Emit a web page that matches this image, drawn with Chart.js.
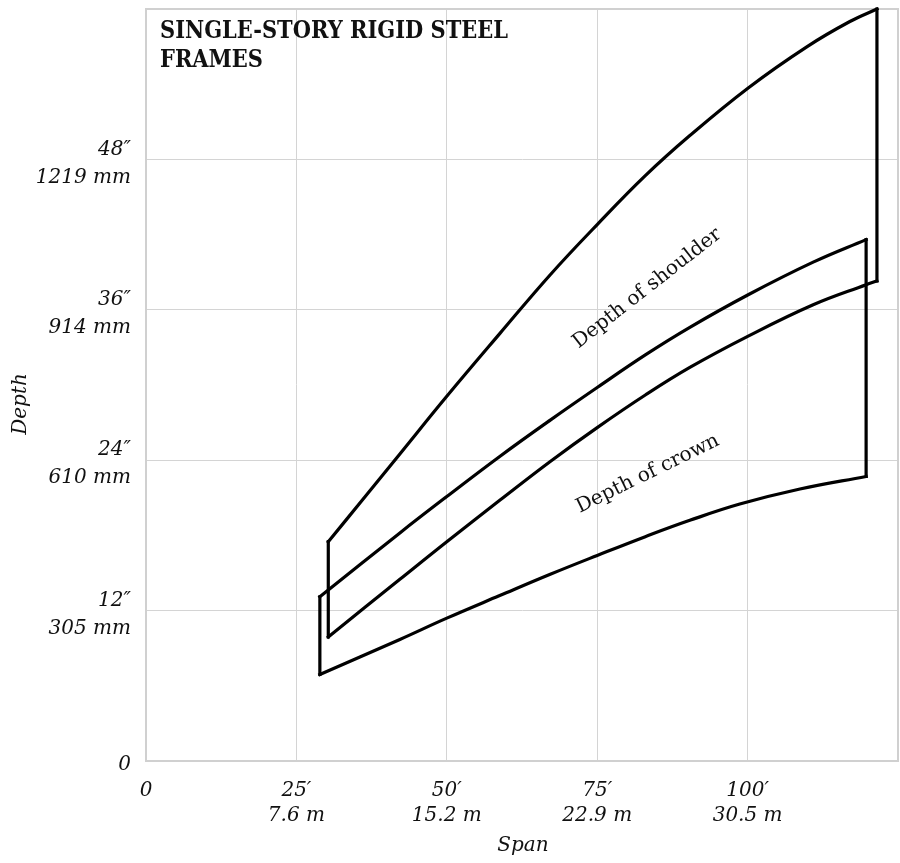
<!DOCTYPE html>
<html><head><meta charset="utf-8">
<script src="https://cdn.jsdelivr.net/npm/chart.js@4.4.1/dist/chart.umd.min.js"></script>
<style>html,body{margin:0;padding:0;background:#fff}#c{display:block}</style>
</head><body>
<canvas id="c" width="900" height="863"></canvas>
<script>
// ---- tick labels ----
const spanTickValues  = [0, 25, 50, 75, 100];
const spanTickFeet    = ['0', '25′', '50′', '75′', '100′'];
const spanTickMetric  = ['', '7.6 m', '15.2 m', '22.9 m', '30.5 m'];
const depthTickValues = [0, 12, 24, 36, 48];
const depthTickInches = ['0', '12″', '24″', '36″', '48″'];
const depthTickMetric = ['', '305 mm', '610 mm', '914 mm', '1219 mm'];

// ---- depth of shoulder band (span ft, depth in) ----
const shoulderTopSpan     = [30.3, 36.1, 42.2, 50.0, 58.8, 67.2, 75.0, 83.0, 90.4, 100.1, 109.9, 117.0, 121.5];
const shoulderTopDepth    = [17.5, 20.9, 24.5, 29.1, 34.1, 38.8, 42.8, 46.7, 49.9, 53.7, 57.0, 59.0, 60.0];
const shoulderBottomSpan  = [30.3, 42.2, 50.0, 58.8, 67.2, 75.0, 83.0, 90.4, 100.1, 110.9, 119.7, 121.5];
const shoulderBottomDepth = [9.9, 14.5, 17.5, 20.8, 23.9, 26.6, 29.2, 31.4, 33.9, 36.4, 38.0, 38.3];

// ---- depth of crown band ----
const crownTopSpan     = [28.9, 42.2, 50.0, 58.8, 67.2, 75.0, 83.0, 90.4, 100.1, 110.9, 119.7];
const crownTopDepth    = [13.1, 18.2, 21.1, 24.3, 27.2, 29.8, 32.4, 34.6, 37.2, 39.8, 41.6];
const crownBottomSpan  = [28.9, 42.2, 50.0, 58.8, 67.2, 75.0, 83.0, 90.4, 98.7, 108.7, 119.7];
const crownBottomDepth = [6.9, 9.7, 11.4, 13.2, 14.9, 16.4, 17.9, 19.2, 20.5, 21.7, 22.7];

// ---- texts ----
const titleLines = ['SINGLE-STORY RIGID STEEL', 'FRAMES'];
const bandLabels = ['Depth of shoulder', 'Depth of crown'];
const bandLabelSpan  = [83.3, 83.4];
const bandLabelDepth = [37.7, 22.9];
const bandLabelAngle = [-38, -26];
const xTitle = 'Span';
const yTitle = 'Depth';

const pts = (xs, ys) => xs.map((x, i) => ({x, y: ys[i]}));
const edge = (xs1, ys1, xs2, ys2, i1, i2) => [{x: xs1[i1], y: ys1[i1]}, {x: xs2[i2], y: ys2[i2]}];

const serif = "'DejaVu Serif', 'Liberation Serif', serif";
const INK = '#111';

const decor = {
  id: 'decor',
  beforeDatasetsDraw(chart) {
    const {ctx, chartArea: a} = chart;
    ctx.save();
    ctx.strokeStyle = '#d0d0d0';
    ctx.lineWidth = 2;
    ctx.strokeRect(a.left, a.top, a.right - a.left, a.bottom - a.top);
    ctx.restore();
  },
  afterDraw(chart) {
    const {ctx, chartArea: a, scales} = chart;
    ctx.save();
    ctx.fillStyle = INK;
    ctx.font = "bold 24px " + serif;
    ctx.textBaseline = 'alphabetic';
    ctx.textAlign = 'left';
    const w = ctx.measureText(titleLines[0]).width;
    const sx = 348 / w;
    titleLines.forEach((t, i) => {
      ctx.save();
      ctx.translate(a.left + 14, a.top + 29 + i * 28.5);
      ctx.scale(sx, 1);
      ctx.fillText(t, 0, 0);
      ctx.restore();
    });
    ctx.font = "20px " + serif;
    ctx.textAlign = 'center';
    ctx.textBaseline = 'middle';
    bandLabels.forEach((t, i) => {
      const px = scales.x.getPixelForValue(bandLabelSpan[i]);
      const py = scales.y.getPixelForValue(bandLabelDepth[i]);
      ctx.save();
      ctx.translate(px, py);
      ctx.rotate(bandLabelAngle[i] * Math.PI / 180);
      ctx.fillText(t, 0, 0);
      ctx.restore();
    });
    ctx.font = "italic 20px " + serif;
    ctx.fillText(xTitle, (a.left + a.right) / 2 + 1, 846);
    ctx.save();
    ctx.translate(21, 404);
    ctx.rotate(-Math.PI / 2);
    ctx.fillText(yTitle, 0, 0);
    ctx.restore();
    ctx.restore();
  }
};

const curve = (label, data) => ({
  label, data, showLine: true, borderColor: '#000', backgroundColor: 'rgba(0,0,0,0)',
  borderWidth: 3.2, pointRadius: 0, tension: 0.4, fill: false,
  borderCapStyle: 'square', borderJoinStyle: 'miter', clip: false
});
const straight = (label, data) => Object.assign(curve(label, data), {tension: 0});

const nT = shoulderTopSpan.length - 1, nB = shoulderBottomSpan.length - 1;
const cT = crownTopSpan.length - 1, cB = crownBottomSpan.length - 1;

new Chart(document.getElementById('c'), {
  type: 'scatter',
  data: {
    datasets: [
      curve('shoulder top', pts(shoulderTopSpan, shoulderTopDepth)),
      curve('shoulder bottom', pts(shoulderBottomSpan, shoulderBottomDepth)),
      straight('shoulder left', edge(shoulderTopSpan, shoulderTopDepth, shoulderBottomSpan, shoulderBottomDepth, 0, 0)),
      straight('shoulder right', edge(shoulderTopSpan, shoulderTopDepth, shoulderBottomSpan, shoulderBottomDepth, nT, nB)),
      curve('crown top', pts(crownTopSpan, crownTopDepth)),
      curve('crown bottom', pts(crownBottomSpan, crownBottomDepth)),
      straight('crown left', edge(crownTopSpan, crownTopDepth, crownBottomSpan, crownBottomDepth, 0, 0)),
      straight('crown right', edge(crownTopSpan, crownTopDepth, crownBottomSpan, crownBottomDepth, cT, cB))
    ]
  },
  options: {
    responsive: false,
    animation: false,
    events: [],
    layout: {padding: {left: 0, top: 9, right: 2, bottom: 0}},
    plugins: {legend: {display: false}, tooltip: {enabled: false}, title: {display: false}},
    scales: {
      x: {
        type: 'linear', min: 0, max: 125,
        afterFit(s) { s.height = 102; s.paddingLeft = 0; s.paddingRight = 0; s.paddingTop = 0; s.paddingBottom = 0; },
        grid: {color: '#d4d4d4', lineWidth: 1, drawTicks: false},
        border: {display: true, color: '#d0d0d0', width: 2},
        ticks: {
          stepSize: 25, padding: 17, maxRotation: 0, autoSkip: false, color: INK,
          font: {family: serif, style: 'italic', size: 20, lineHeight: 1.25},
          callback(v) {
            const i = spanTickValues.indexOf(v);
            if (i < 0) return '';
            return spanTickMetric[i] ? [spanTickFeet[i], spanTickMetric[i]] : spanTickFeet[i];
          }
        }
      },
      y: {
        type: 'linear', min: 0, max: 60,
        afterFit(s) { s.width = 146; s.paddingLeft = 0; s.paddingRight = 0; s.paddingTop = 0; s.paddingBottom = 0; },
        grid: {color: '#d4d4d4', lineWidth: 1, drawTicks: false},
        border: {display: true, color: '#d0d0d0', width: 2},
        ticks: {
          stepSize: 12, padding: 15, autoSkip: false, color: INK, labelOffset: 4,
          font: {family: serif, style: 'italic', size: 20, lineHeight: 1.4},
          callback(v) {
            const i = depthTickValues.indexOf(v);
            if (i < 0) return '';
            return depthTickMetric[i] ? [depthTickInches[i], depthTickMetric[i]] : depthTickInches[i];
          }
        }
      }
    }
  },
  plugins: [decor]
});
</script>
</body></html>
